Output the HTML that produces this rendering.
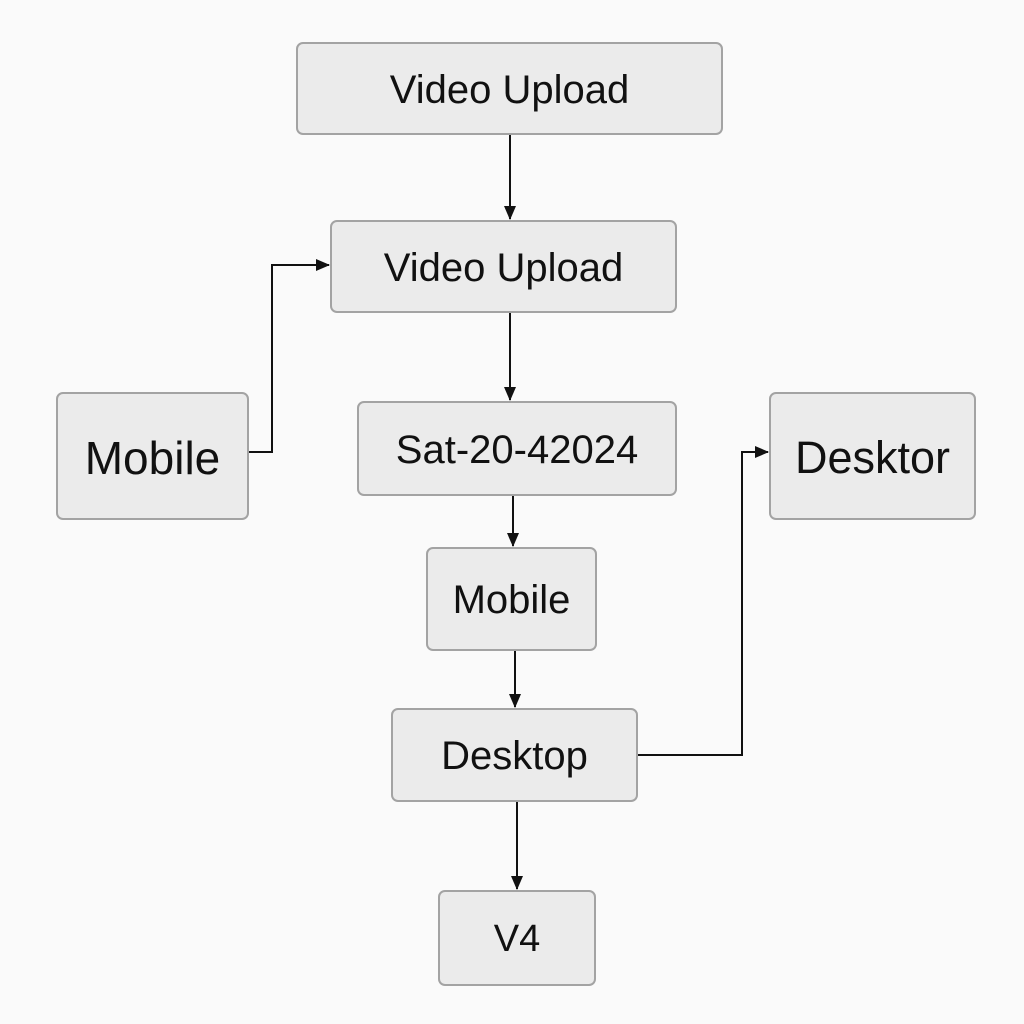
<!DOCTYPE html>
<html><head><meta charset="utf-8"><style>
html,body{margin:0;padding:0;background:#fafafa;}
.c{position:relative;width:1024px;height:1024px;overflow:hidden;font-family:"Liberation Sans",sans-serif;color:#111;}
.b{position:absolute;box-sizing:border-box;background:#ebebeb;border:2px solid #a3a3a3;border-radius:7px;display:flex;align-items:center;justify-content:center;white-space:nowrap;padding-top:3px;}
svg{position:absolute;left:0;top:0;}
</style></head><body><div class="c">
<svg width="1024" height="1024">
<defs><marker id="a" markerWidth="14" markerHeight="12" refX="13" refY="6" orient="auto" markerUnits="userSpaceOnUse"><path d="M0,0 L14,6 L0,12 z" fill="#111"/></marker></defs>
<g stroke="#111" stroke-width="2" fill="none">
<path d="M510,134 V219" marker-end="url(#a)"/>
<path d="M249,452 H272 V265 H329" marker-end="url(#a)"/>
<path d="M510,312 V400" marker-end="url(#a)"/>
<path d="M513,495 V546" marker-end="url(#a)"/>
<path d="M515,650 V707" marker-end="url(#a)"/>
<path d="M637,755 H742 V452 H768" marker-end="url(#a)"/>
<path d="M517,801 V889" marker-end="url(#a)"/>
</g></svg>
<div class="b" style="left:296px;top:42px;width:427px;height:93px;font-size:40px;">Video Upload</div>
<div class="b" style="left:330px;top:220px;width:347px;height:93px;font-size:40px;">Video Upload</div>
<div class="b" style="left:56px;top:392px;width:193px;height:128px;font-size:46px;">Mobile</div>
<div class="b" style="left:357px;top:401px;width:320px;height:95px;font-size:40px;">Sat-20-42024</div>
<div class="b" style="left:769px;top:392px;width:207px;height:128px;font-size:45px;">Desktor</div>
<div class="b" style="left:426px;top:547px;width:171px;height:104px;font-size:40px;">Mobile</div>
<div class="b" style="left:391px;top:708px;width:247px;height:94px;font-size:40px;">Desktop</div>
<div class="b" style="left:438px;top:890px;width:158px;height:96px;font-size:38px;">V4</div>
</div></body></html>
